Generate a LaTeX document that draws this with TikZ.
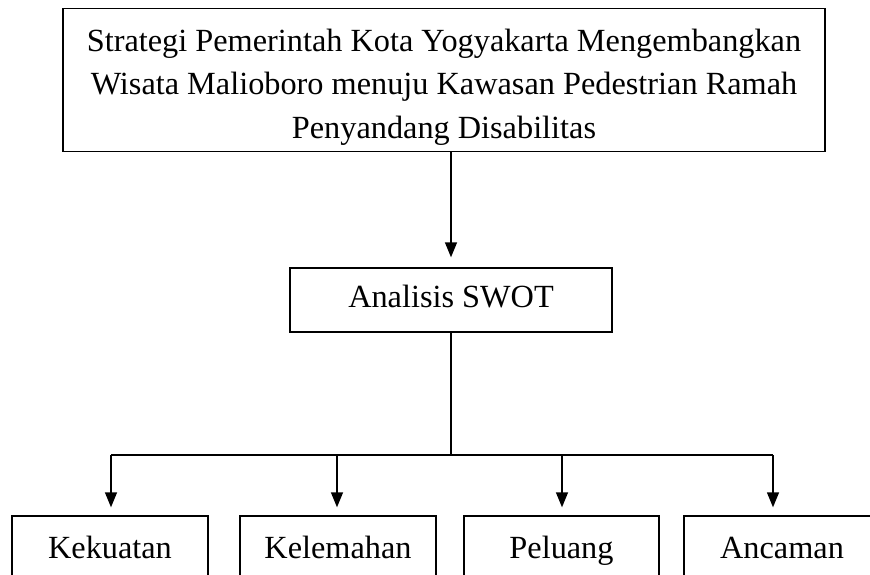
\documentclass[tikz,border=0pt]{standalone}
\usepackage{fontspec}
\setmainfont{Liberation Serif}
\usetikzlibrary{arrows.meta,calc}
\begin{document}
\begin{tikzpicture}[x=1pt,y=-1pt,
  txt/.style={font=\fontsize{32.3}{43.5}\selectfont},
  box/.style={draw,line width=1.4pt,inner sep=0pt,align=center,txt,text height=22pt,text depth=7pt},
  conn/.style={line width=1.4pt},
  arr/.style={line width=1.4pt,-{Triangle[length=15pt,width=12pt]}}]
\useasboundingbox (0,0) rectangle (870,574);
\node[draw,line width=1.4pt,minimum width=762pt,minimum height=143pt] (top) at (444,80) {};
\node[txt,align=center,inner sep=0pt] (toptext) at (444,87)
  {Strategi Pemerintah Kota Yogyakarta Mengembangkan\\Wisata Malioboro menuju Kawasan Pedestrian Ramah\\Penyandang Disabilitas};
\node[box,minimum width=322pt,minimum height=64pt] (swot) at (451,300) {Analisis SWOT};
\node[box,minimum width=196pt,minimum height=69pt] (k1) at (110,550.5) {Kekuatan};
\node[box,minimum width=196pt,minimum height=69pt] (k2) at (338,550.5) {Kelemahan};
\node[box,minimum width=195pt,minimum height=69pt] (k3) at (561.5,550.5) {Peluang};
\node[box,minimum width=196pt,minimum height=69pt] (k4) at (782,550.5) {Ancaman};
\draw[arr,shorten >=10pt] (swot.north |- top.south) -- (swot.north);
\coordinate (j) at (451,455);
\coordinate (a1) at (111,455);
\coordinate (a2) at (337,455);
\coordinate (a3) at (562,455);
\coordinate (a4) at (773,455);
\draw[conn] (swot.south) -- (j);
\draw[conn] (a1) -- (a4);
\draw[arr,shorten >=8pt] (a1) -- (a1 |- k1.north);
\draw[arr,shorten >=8pt] (a2) -- (a2 |- k2.north);
\draw[arr,shorten >=8pt] (a3) -- (a3 |- k3.north);
\draw[arr,shorten >=8pt] (a4) -- (a4 |- k4.north);
\end{tikzpicture}
\end{document}
